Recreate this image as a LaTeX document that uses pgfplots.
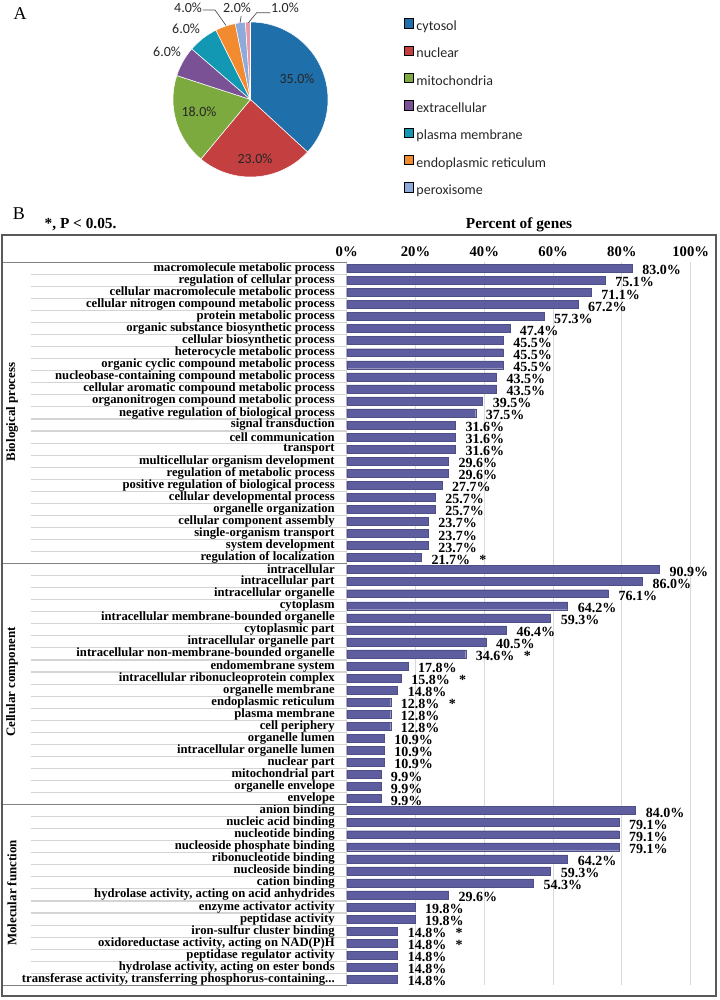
\documentclass[border=0pt]{standalone}
\usepackage{fontspec}
\setmainfont{Liberation Serif}
\newfontfamily\calfont{Carlito}
\usepackage{pgfplots}
\usepackage{pgfplotstable}
\pgfplotsset{compat=1.18}

\definecolor{cyto}{HTML}{1F6FAA}
\definecolor{nucl}{HTML}{C43F3F}
\definecolor{mito}{HTML}{7DAA3F}
\definecolor{extr}{HTML}{7A5195}
\definecolor{plas}{HTML}{1298B2}
\definecolor{endo}{HTML}{F28A30}
\definecolor{pero}{HTML}{8EAADB}
\definecolor{other}{HTML}{E59AA4}
\definecolor{barc}{HTML}{5D5D9F}
\definecolor{gridc}{HTML}{D9D9D9}
\definecolor{rowc}{HTML}{D4D4D4}
\definecolor{boxc}{HTML}{595959}

\newcommand\sg{\hspace{7pt}*}

% GO terms, percent of genes, printed label
\pgfplotstableread[col sep=semicolon]{
name;pct;lab
macromolecule metabolic process;83.0;83.0\%
regulation of cellular process;75.1;75.1\%
cellular macromolecule metabolic process;71.1;71.1\%
cellular nitrogen compound metabolic process;67.2;67.2\%
protein metabolic process;57.3;57.3\%
organic substance biosynthetic process;47.4;47.4\%
cellular biosynthetic process;45.5;45.5\%
heterocycle metabolic process;45.5;45.5\%
organic cyclic compound metabolic process;45.5;45.5\%
nucleobase-containing compound metabolic process;43.5;43.5\%
cellular aromatic compound metabolic process;43.5;43.5\%
organonitrogen compound metabolic process;39.5;39.5\%
negative regulation of biological process;37.5;37.5\%
signal transduction;31.6;31.6\%
cell communication;31.6;31.6\%
transport;31.6;31.6\%
multicellular organism development;29.6;29.6\%
regulation of metabolic process;29.6;29.6\%
positive regulation of biological process;27.7;27.7\%
cellular developmental process;25.7;25.7\%
organelle organization;25.7;25.7\%
cellular component assembly;23.7;23.7\%
single-organism transport;23.7;23.7\%
system development;23.7;23.7\%
regulation of localization;21.7;21.7\%\sg
intracellular;90.9;90.9\%
intracellular part;86.0;86.0\%
intracellular organelle;76.1;76.1\%
cytoplasm;64.2;64.2\%
intracellular membrane-bounded organelle;59.3;59.3\%
cytoplasmic part;46.4;46.4\%
intracellular organelle part;40.5;40.5\%
intracellular non-membrane-bounded organelle;34.6;34.6\%\sg
endomembrane system;17.8;17.8\%
intracellular ribonucleoprotein complex;15.8;15.8\%\sg
organelle membrane;14.8;14.8\%
endoplasmic reticulum;12.8;12.8\%\sg
plasma membrane;12.8;12.8\%
cell periphery;12.8;12.8\%
organelle lumen;10.9;10.9\%
intracellular organelle lumen;10.9;10.9\%
nuclear part;10.9;10.9\%
mitochondrial part;9.9;9.9\%
organelle envelope;9.9;9.9\%
envelope;9.9;9.9\%
anion binding;84.0;84.0\%
nucleic acid binding;79.1;79.1\%
nucleotide binding;79.1;79.1\%
nucleoside phosphate binding;79.1;79.1\%
ribonucleotide binding;64.2;64.2\%
nucleoside binding;59.3;59.3\%
cation binding;54.3;54.3\%
hydrolase activity, acting on acid anhydrides;29.6;29.6\%
enzyme activator activity;19.8;19.8\%
peptidase activity;19.8;19.8\%
iron-sulfur cluster binding;14.8;14.8\%\sg
oxidoreductase activity, acting on NAD(P)H;14.8;14.8\%\sg
peptidase regulator activity;14.8;14.8\%
hydrolase activity, acting on ester bonds;14.8;14.8\%
transferase activity, transferring phosphorus-containing...;14.8;14.8\%
}\gotable

\begin{document}
\begin{tikzpicture}
\path[use as bounding box] (0,0) rectangle (540pt,-750pt);

% ---- panel A: pie
\begin{axis}[
  at={(187.875pt,-74.625pt)}, anchor=center,
  hide axis, scale only axis, clip=false,
  width=116.25pt, height=116.25pt,
  xmin=-1, xmax=1, ymin=-1, ymax=1,
  legend cell align=left,
  legend image code/.code={\fill[#1] (0pt,-0.6pt) rectangle (6.8pt,6.2pt);},
  legend style={at={(1.490,1.0245)}, anchor=north west, draw=none, fill=none,
    inner sep=0pt, row sep=9.1pt,
    font=\calfont\fontsize{10.5}{12}\selectfont,
    nodes={inner sep=0pt, text height=7.6pt, text depth=2.4pt, text=black!85},
    /tikz/every odd column/.append style={column sep=2pt}},
]
\addlegendimage{fill=cyto}\addlegendentry{cytosol}
\addlegendimage{fill=nucl}\addlegendentry{nuclear}
\addlegendimage{fill=mito}\addlegendentry{mitochondria}
\addlegendimage{fill=extr}\addlegendentry{extracellular}
\addlegendimage{fill=plas}\addlegendentry{plasma membrane}
\addlegendimage{fill=endo}\addlegendentry{endoplasmic reticulum}
\addlegendimage{fill=pero}\addlegendentry{peroxisome}
\gdef\pieang{90}
\foreach \v/\c in {35/cyto,23/nucl,18/mito,6/extr,6/plas,4/endo,2/pero,1/other}{
  \pgfmathsetmacro\endang{\pieang-\v*360/95}
  \edef\temp{\noexpand\fill[\c,draw=white,line width=0.4pt] (axis cs:0,0) -- ++(\pieang:58.125pt)
    arc[start angle=\pieang,end angle=\endang,radius=58.125pt] -- cycle;}
  \temp
  \global\let\pieang\endang
}
\begin{scope}[every node/.style={font=\calfont\fontsize{10.5}{12}\selectfont, text=black!85}]
\node at (axis cs:0.600,0.265) {35.0\%};
\node at (axis cs:0.058,-0.768) {23.0\%};
\node at (axis cs:-0.665,-0.161) {18.0\%};
\node at (axis cs:-1.077,0.613) {6.0\%};
\node at (axis cs:-0.832,0.910) {6.0\%};
\node at (axis cs:-0.806,1.181) {4.0\%};
\node at (axis cs:-0.174,1.181) {2.0\%};
\node at (axis cs:0.445,1.181) {1.0\%};
\end{scope}
\draw[black!70, line width=0.5pt] (axis cs:-0.613,1.155) -- (axis cs:-0.458,1.155) -- (axis cs:-0.316,0.955);
\draw[black!70, line width=0.5pt] (axis cs:-0.135,0.99) -- (axis cs:-0.12,1.08);
\draw[black!70, line width=0.5pt] (axis cs:-0.028,0.99) -- (axis cs:0.08,1.12) -- (axis cs:0.255,1.12);
\end{axis}

% ---- panel B: bars
\begin{axis}[
  at={(260.03pt,-196.73pt)}, anchor=north west,
  scale only axis, clip=false,
  width=258pt, height=542.25pt,
  xbar, bar width=0.66,
  xmin=0, xmax=100, ymin=0.5, ymax=60.5, y dir=reverse,
  axis line style={draw=none},
  xtick={0,20,...,100},
  xticklabels={0\%,20\%,40\%,60\%,80\%,100\%},
  xticklabel pos=upper,
  xticklabel style={font=\bfseries\fontsize{11}{12}\selectfont, yshift=0.5pt},
  xmajorgrids, grid style={gridc, line width=0.8pt},
  ytick={1,...,60},
  yticklabel={\pgfplotstablegetelem{\ticknum}{name}\of\gotable\pgfplotsretval},
  yticklabel style={font=\bfseries\fontsize{9.5}{10}\selectfont, inner sep=0pt, xshift=-8.8pt},
  ytick pos=left,
  tick align=outside,
  major tick length=0pt,
  minor y tick num=1,
  minor tick length=237pt,
  every minor tick/.style={draw=rowc, line width=0.8pt},
  extra y ticks={0.5,25.5,45.5,60.5},
  extra y tick labels={},
  extra y tick style={major tick length=258pt,
    tick style={draw=boxc!75, line width=0.9pt}},
  point meta=explicit symbolic,
  nodes near coords,
  nodes near coords style={anchor=west, inner sep=0pt, xshift=7.5pt, yshift=-1.5pt,
    font=\bfseries\fontsize{10.5}{11}\selectfont, text=black},
]
\addplot[fill=barc, draw=barc!85!black, line width=0.3pt]
  table[x=pct, y expr=\coordindex+1, meta=lab] {\gotable};
\end{axis}

\begin{scope}[x=0.75pt, y=-0.75pt]
\node[font=\fontsize{13.5}{14}\selectfont] at (20,14) {A};
\node[font=\fontsize{13.5}{14}\selectfont] at (19,214) {B};
\node[anchor=west, font=\bfseries\fontsize{11.5}{13}\selectfont] at (40,225) {*, P < 0.05.};
\node[font=\bfseries\fontsize{11.5}{13}\selectfont] at (519,225) {Percent of genes};
\draw[boxc, line width=1.4pt] (2,235) rectangle (716,996);
\begin{scope}[every node/.style={rotate=90, font=\bfseries\fontsize{9.7}{10}\selectfont}]
\node at (12,412) {Biological process};
\node at (12,682) {Cellular component};
\node at (12,893) {Molecular function};
\end{scope}
\end{scope}
\end{tikzpicture}
\end{document}
